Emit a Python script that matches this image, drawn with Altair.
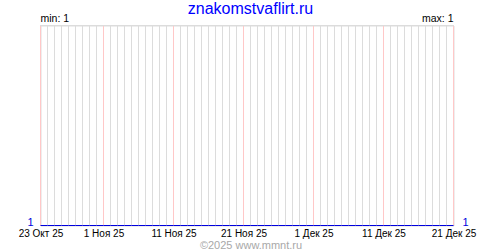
import altair as alt
import pandas as pd

# ---- data ----
site_title = "znakomstvaflirt.ru"
footer_text = "©2025 www.mmnt.ru"
start_date = "2025-10-23"
end_date = "2025-12-21"
dates = [d.strftime("%Y-%m-%d") for d in pd.date_range(start_date, end_date, freq="D")]
values = [1] * len(dates)
tick_dates = ["2025-10-23", "2025-11-01", "2025-11-11", "2025-11-21",
              "2025-12-01", "2025-12-11", "2025-12-21"]
month_names = ["Янв", "Фев", "Мар", "Апр", "Май", "Июн",
               "Июл", "Авг", "Сен", "Окт", "Ноя", "Дек"]
min_label = "min: 1"
max_label = "max: 1"

df = pd.DataFrame({"date": dates, "value": values})
df["major"] = [(pd.Timestamp(d).day in (1, 11, 21)) or i == 0 for i, d in enumerate(dates)]

def ms(d):
    return int(pd.Timestamp(d, tz="UTC").value // 10**6)

W, H = 413, 200
FONT = "Liberation Sans"

xscale = alt.Scale(type="utc", domain=[ms(start_date), ms(end_date)])
month_arr = "[" + ",".join("'%s'" % m for m in month_names) + "]"
label_expr = ("utcdate(datum.value) + ' ' + " + month_arr +
              "[utcmonth(datum.value)] + ' ' + utcFormat(datum.value, '%y')")

x_axis = alt.Axis(values=[ms(d) for d in tick_dates], labelExpr=label_expr,
                  title=None, grid=False, domain=False, ticks=False,
                  labelFont=FONT, labelFontSize=10, labelColor="#000000",
                  labelPadding=3, labelFlush=False, labelOverlap=False)

base = alt.Chart(df)

grey = base.transform_filter("!datum.major").mark_rule(color="#dcdcdc", strokeWidth=1).encode(
    x=alt.X("date:T", scale=xscale, axis=x_axis),
    y=alt.value(0), y2=alt.value(H))

pink = base.transform_filter("datum.major").mark_rule(color="#ffc8c8", strokeWidth=1).encode(
    x=alt.X("date:T", scale=xscale),
    y=alt.value(0), y2=alt.value(H))

top = base.transform_filter("datum.major").mark_rule(color="#dcdcdc", strokeWidth=1).encode(
    x=alt.value(0), x2=alt.value(W), y=alt.value(0))

yscale = alt.Scale(domain=[1, 2])
line = base.mark_line(color="#0000dd", strokeWidth=1, clip=False).encode(
    x=alt.X("date:T", scale=xscale),
    y=alt.Y("value:Q", scale=yscale, axis=None))

first = df.iloc[[0]]
last = df.iloc[[-1]]
left_lab = alt.Chart(first).mark_text(color="#0000dd", font=FONT, fontSize=11,
                                      align="right", baseline="middle", dx=-7, dy=-3).encode(
    x=alt.X("date:T", scale=xscale), y=alt.Y("value:Q", scale=yscale), text="value:Q")
right_lab = alt.Chart(last).mark_text(color="#0000dd", font=FONT, fontSize=11,
                                      align="left", baseline="middle", dx=9, dy=-3).encode(
    x=alt.X("date:T", scale=xscale), y=alt.Y("value:Q", scale=yscale), text="value:Q")

min_t = alt.Chart(first).mark_text(color="#000000", font=FONT, fontSize=10.5,
                                   align="left", baseline="bottom", dy=-2).encode(
    x=alt.X("date:T", scale=xscale), y=alt.value(0), text=alt.value(min_label))
max_t = alt.Chart(last).mark_text(color="#000000", font=FONT, fontSize=10.5,
                                  align="right", baseline="bottom", dy=-2).encode(
    x=alt.X("date:T", scale=xscale), y=alt.value(0), text=alt.value(max_label))

title_t = alt.Chart(first).mark_text(color="#0000ff", font=FONT, fontSize=16,
                                     align="center", baseline="alphabetic").encode(
    x=alt.value(W / 2 + 3.5), y=alt.value(-12), text=alt.value(site_title))

foot = alt.Chart(first).mark_text(color="#a8a8a8", font=FONT, fontSize=11,
                                  align="center", baseline="middle").encode(
    x=alt.value(W / 2 + 4), y=alt.value(H + 20), text=alt.value(footer_text))

chart = alt.layer(grey, pink, top, line, left_lab, right_lab, min_t, max_t, title_t, foot).properties(
    width=W, height=H,
    autosize=alt.AutoSizeParams(type="none"),
    padding={"left": 40.5, "top": 25.5, "right": 46.5, "bottom": 24.5},
).configure_view(stroke=None).configure(background="#ffffff")

chart.save("out.html", embed_options={"renderer": "svg", "actions": False})
